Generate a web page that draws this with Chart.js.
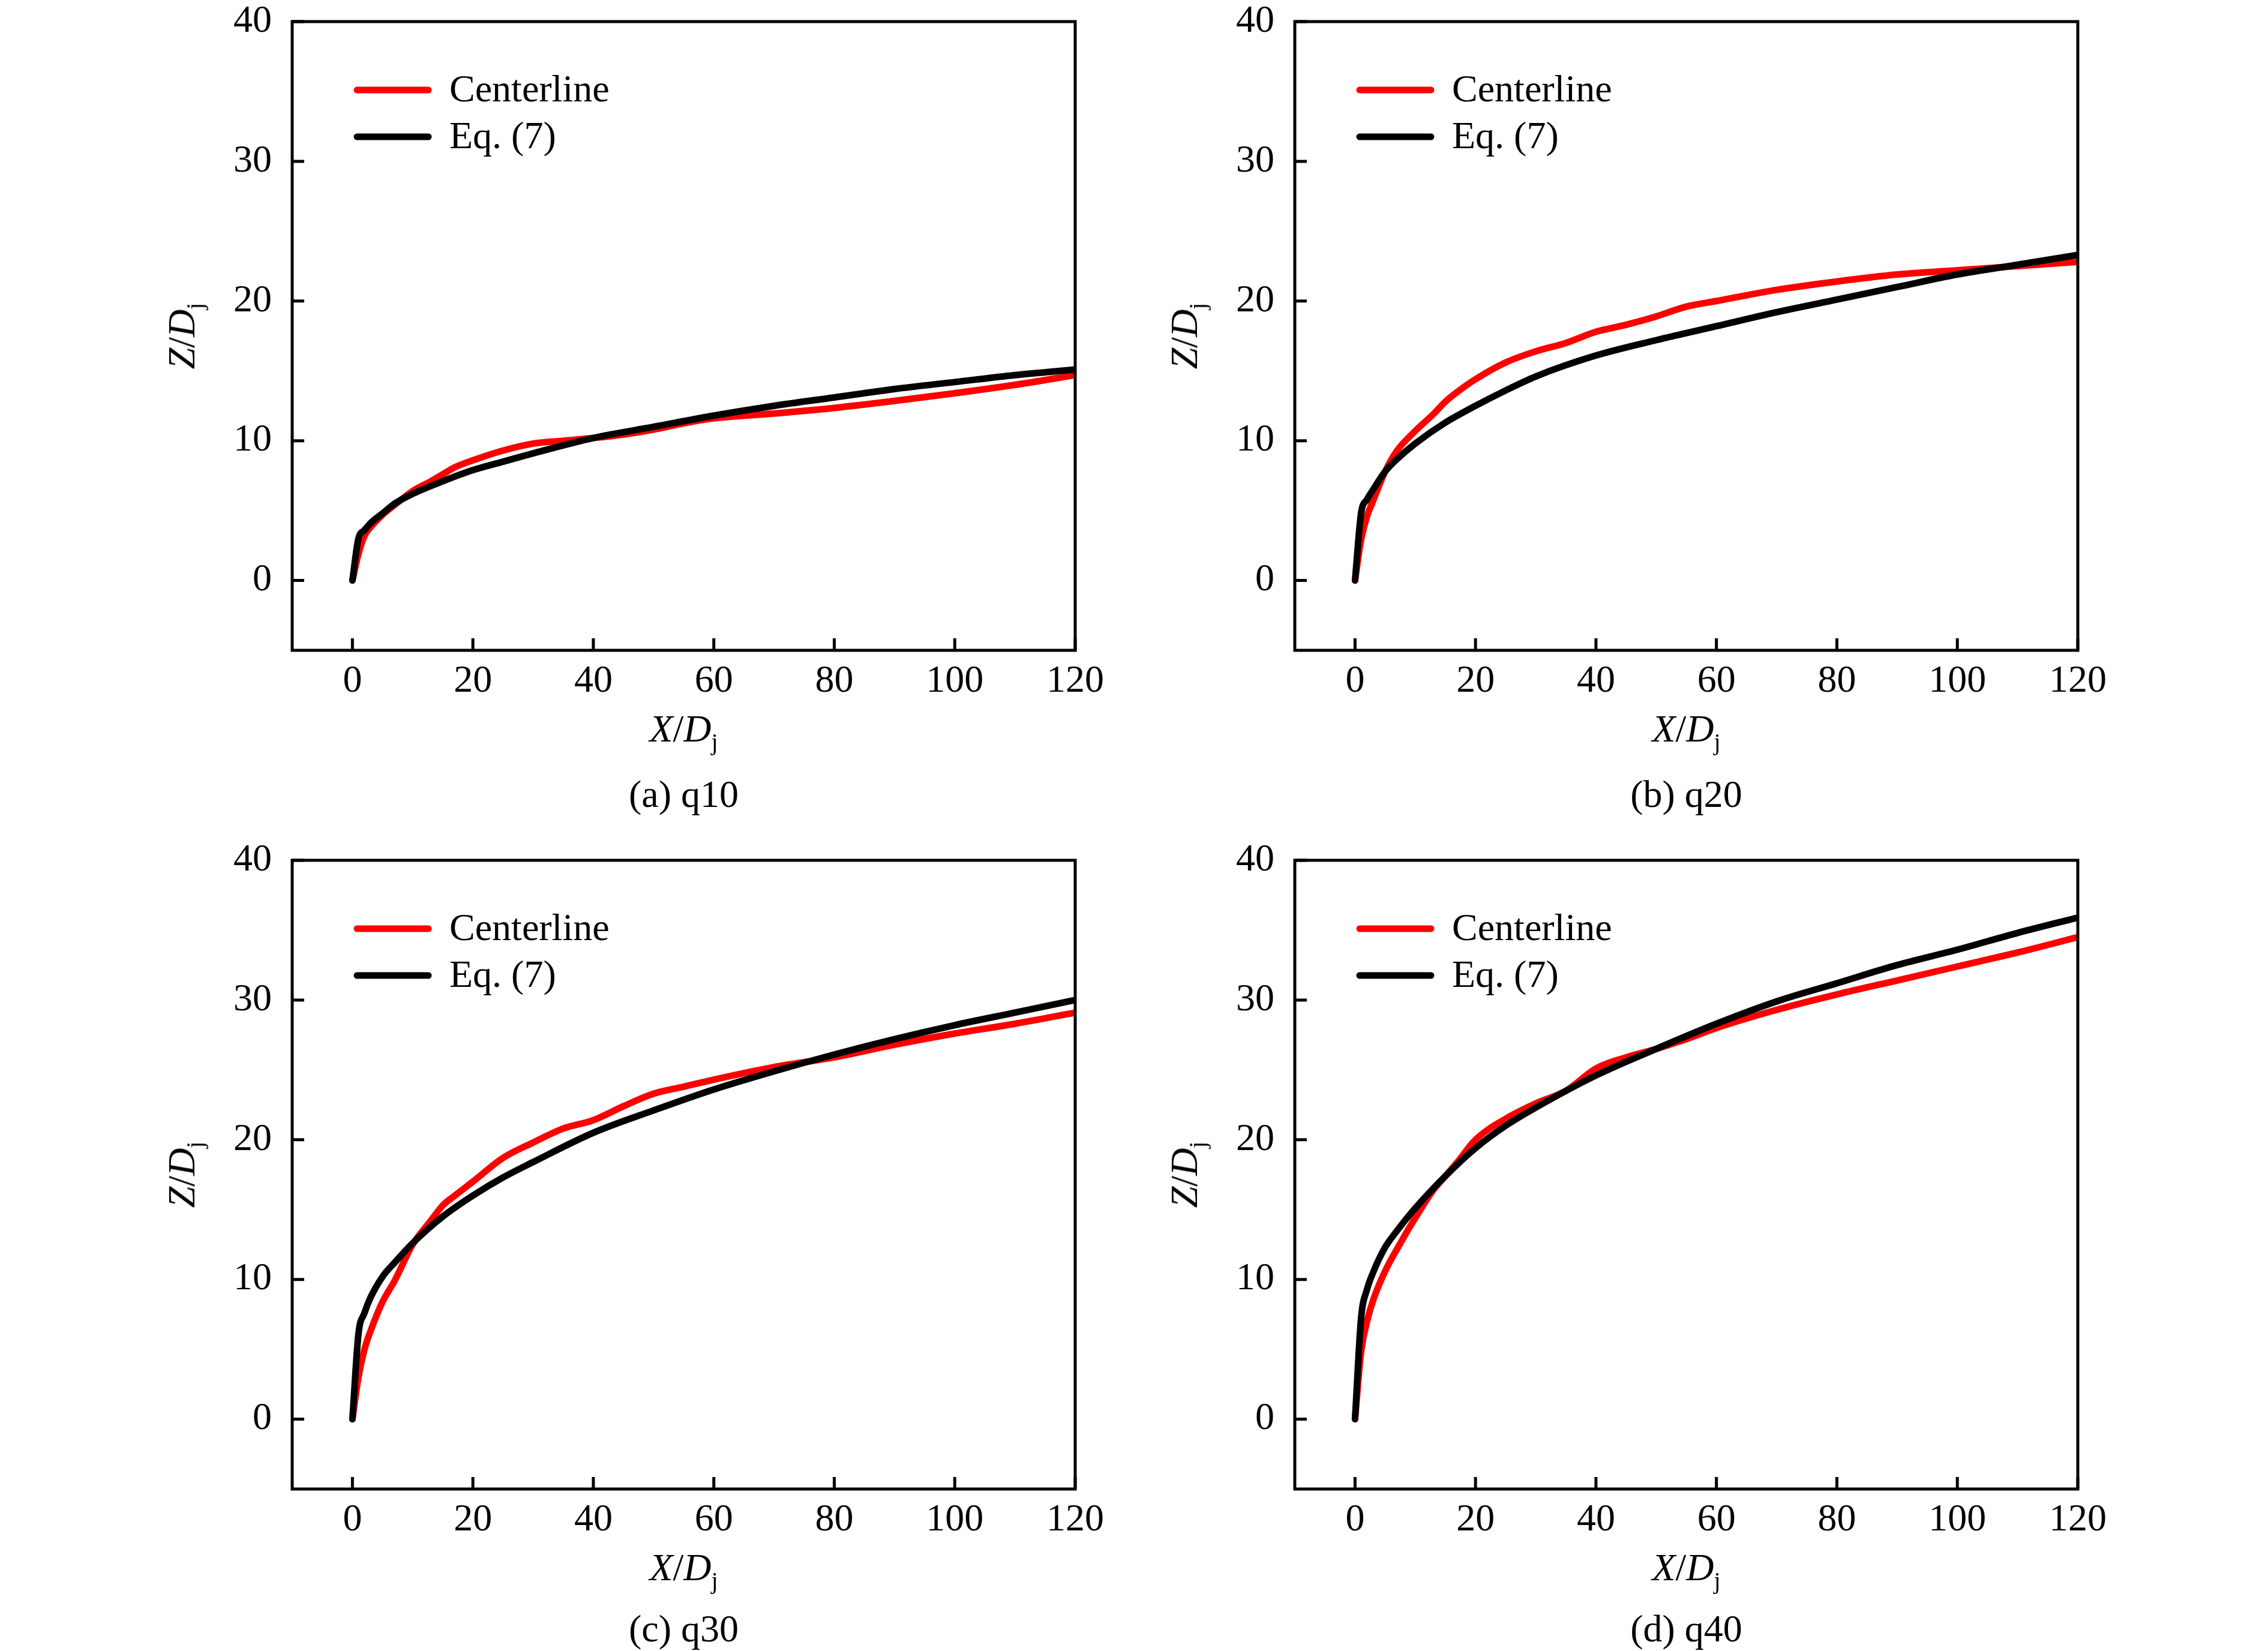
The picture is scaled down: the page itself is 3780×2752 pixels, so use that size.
<!DOCTYPE html>
<html>
<head>
<meta charset="utf-8">
<title>Centerline vs Eq. (7)</title>
<script src="https://cdn.jsdelivr.net/npm/chart.js@4.4.1/dist/chart.umd.min.js"></script>
<style>
	html, body { margin: 0; padding: 0; background: #fff; }
	body { width: 3780px; height: 2752px; position: relative; overflow: hidden;
		font-family: "Liberation Serif", "Times New Roman", serif; color: #000; }
	canvas { position: absolute; }
	.k_xtitle, .k_caption { position: absolute; font-size: 64px; line-height: 1; white-space: nowrap; transform: translateX(-50%); }
	.k_ytitle { position: absolute; font-size: 64px; line-height: 1; white-space: nowrap; transform: translate(-50%, -50%) rotate(-90deg); }
	.k_sub { font-size: 40px; position: relative; top: 14px; font-style: normal; }
</style>
</head>
<body>
<script>
// ---------------------- 데이터 ----------------------
const centerX = [0, 1, 2, 3, 5, 7, 10, 13, 15, 17, 20, 25, 30, 35, 40, 45, 50, 55, 60, 70, 80, 90, 100, 110, 120];
const eqX     = [0, 1, 2, 3, 5, 7, 10, 15, 20, 25, 30, 40, 50, 60, 70, 80, 90, 100, 110, 120];

const q10Center = [0, 1.9, 3.2, 3.8, 4.7, 5.4, 6.4, 7.1, 7.6, 8.1, 8.6, 9.3, 9.8, 10.0, 10.2, 10.45, 10.8, 11.25, 11.6, 11.95, 12.35, 12.85, 13.4, 14.0, 14.7];
const q10Eq     = [0, 3.0, 3.6, 4.1, 4.8, 5.5, 6.2, 7.1, 7.9, 8.5, 9.1, 10.2, 11.0, 11.8, 12.5, 13.1, 13.7, 14.2, 14.7, 15.1];

const q20Center = [0, 2.9, 4.6, 5.7, 7.8, 9.3, 10.7, 11.9, 12.8, 13.5, 14.4, 15.6, 16.4, 17.0, 17.8, 18.3, 18.9, 19.6, 20.0, 20.8, 21.4, 21.9, 22.2, 22.5, 22.8];
const q20Eq     = [0, 4.8, 5.8, 6.5, 7.8, 8.7, 9.8, 11.3, 12.5, 13.6, 14.6, 16.1, 17.2, 18.2, 19.2, 20.1, 21.0, 21.9, 22.6, 23.3];

const q30Center = [0, 3.0, 5.0, 6.3, 8.4, 9.9, 12.5, 14.2, 15.3, 16.0, 17.0, 18.7, 19.8, 20.8, 21.4, 22.4, 23.3, 23.8, 24.3, 25.2, 25.9, 26.8, 27.6, 28.3, 29.1];
const q30Eq     = [0, 6.1, 7.6, 8.7, 10.2, 11.2, 12.6, 14.5, 16.0, 17.3, 18.4, 20.5, 22.1, 23.6, 24.9, 26.1, 27.2, 28.2, 29.1, 30.0];

const q40Center = [0, 4.8, 7.0, 8.5, 10.6, 12.2, 14.4, 16.4, 17.4, 18.4, 20.0, 21.5, 22.6, 23.5, 25.1, 25.9, 26.5, 27.2, 28.0, 29.3, 30.4, 31.4, 32.4, 33.4, 34.5];
const q40Eq     = [0, 7.2, 9.3, 10.5, 12.3, 13.5, 15.1, 17.4, 19.4, 21.0, 22.3, 24.6, 26.5, 28.3, 29.9, 31.2, 32.5, 33.6, 34.8, 35.9];

const captions = ['(a) q10', '(b) q20', '(c) q30', '(d) q40'];
const legendLabels = ['Centerline', 'Eq. (7)'];
const xTicks = [0, 20, 40, 60, 80, 100, 120];
const yTicks = [0, 10, 20, 30, 40];

// ---------------------- 배치 ----------------------
const PLOT_W = 1305, PLOT_H = 1048;
const AXIS_W = 200, AXIS_H = 110, PAD_TOP = 90, PAD_RIGHT = 90;
const colLeft = [487, 2158];
const rowTop = [36, 1434];
const captionGap = [208, 201];
const FONT = { family: 'Liberation Serif', size: 64 };

function toPoints(xs, ys) {
	return xs.map((x, i) => ({ x: x, y: ys[i] }));
}

// 테두리 + 안쪽 눈금
const framePlugin = {
	id: 'frame',
	afterDatasetsDraw(chart) {
		const { ctx, chartArea: a, scales } = chart;
		ctx.save();
		ctx.strokeStyle = '#000';
		ctx.lineWidth = 5;
		ctx.strokeRect(a.left, a.top, a.right - a.left, a.bottom - a.top);
		ctx.beginPath();
		scales.x.ticks.forEach(t => {
			const px = scales.x.getPixelForValue(t.value);
			ctx.moveTo(px, a.bottom);
			ctx.lineTo(px, a.bottom - 20);
		});
		scales.y.ticks.forEach(t => {
			const py = scales.y.getPixelForValue(t.value);
			ctx.moveTo(a.left, py);
			ctx.lineTo(a.left + 20, py);
		});
		ctx.stroke();
		ctx.restore();
	}
};

// 그래프 안쪽 범례
const legendPlugin = {
	id: 'insideLegend',
	afterDraw(chart) {
		const { ctx, chartArea: a } = chart;
		ctx.save();
		chart.data.datasets.forEach((ds, i) => {
			const y = a.top + 114 + i * 78;
			ctx.strokeStyle = ds.borderColor;
			ctx.lineWidth = 11;
			ctx.lineCap = 'round';
			ctx.beginPath();
			ctx.moveTo(a.left + 108, y);
			ctx.lineTo(a.left + 227, y);
			ctx.stroke();
			ctx.fillStyle = '#000';
			ctx.font = '64px "Liberation Serif"';
			ctx.textBaseline = 'alphabetic';
			ctx.fillText(ds.label, a.left + 262, y + 19);
		});
		ctx.restore();
	}
};

function addText(cls, html, left, top) {
	const d = document.createElement('div');
	d.className = cls;
	d.innerHTML = html;
	d.style.left = left + 'px';
	d.style.top = top + 'px';
	document.body.appendChild(d);
}

function drawPanel(plotLeft, plotTop, caption, capGap, center, eq) {
	const canvas = document.createElement('canvas');
	const w = AXIS_W + PLOT_W + PAD_RIGHT;
	const h = PAD_TOP + PLOT_H + AXIS_H;
	canvas.width = w;
	canvas.height = h;
	canvas.style.width = w + 'px';
	canvas.style.height = h + 'px';
	canvas.style.left = (plotLeft - AXIS_W) + 'px';
	canvas.style.top = (plotTop - PAD_TOP) + 'px';
	document.body.appendChild(canvas);

	const chart = new Chart(canvas.getContext('2d'), {
		type: 'line',
		data: {
			datasets: [{
				label: legendLabels[0],
				data: toPoints(centerX, center),
				borderColor: '#ff0000',
				order: 2
			}, {
				label: legendLabels[1],
				data: toPoints(eqX, eq),
				borderColor: '#000000',
				order: 1
			}]
		},
		options: {
			responsive: false,
			animation: false,
			devicePixelRatio: 1,
			layout: { padding: { top: PAD_TOP, right: PAD_RIGHT, left: 0, bottom: 0 } },
			elements: {
				line: { borderWidth: 11, cubicInterpolationMode: 'monotone', borderCapStyle: 'round', borderJoinStyle: 'round', fill: false },
				point: { radius: 0, hoverRadius: 0 }
			},
			datasets: { line: { clip: 0 } },
			plugins: { legend: { display: false }, tooltip: { enabled: false } },
			scales: {
				x: {
					type: 'linear', min: -10, max: 120,
					afterBuildTicks: s => { s.ticks = xTicks.map(v => ({ value: v })); },
					afterFit: s => { s.height = AXIS_H; },
					ticks: { font: FONT, color: '#000', padding: 14, maxRotation: 0, autoSkip: false },
					grid: { display: false, drawTicks: false },
					border: { display: false }
				},
				y: {
					type: 'linear', min: -5, max: 40,
					afterBuildTicks: s => { s.ticks = yTicks.map(v => ({ value: v })); },
					afterFit: s => { s.width = AXIS_W; },
					ticks: { font: FONT, color: '#000', padding: 34, autoSkip: false },
					grid: { display: false, drawTicks: false },
					border: { display: false }
				}
			}
		},
		plugins: [framePlugin, legendPlugin]
	});

	// 실제 chartArea 기준으로 캔버스 위치 맞추기
	canvas.style.left = (plotLeft - chart.chartArea.left) + 'px';
	canvas.style.top = (plotTop - chart.chartArea.top) + 'px';

	const plotBottom = plotTop + PLOT_H;
	addText('k_ytitle', '<i>Z</i>/<i>D</i><span class="k_sub">j</span>', plotLeft - 184, plotTop + PLOT_H / 2);
	addText('k_xtitle', '<i>X</i>/<i>D</i><span class="k_sub">j</span>', plotLeft + PLOT_W / 2, plotBottom + 99);
	addText('k_caption', caption, plotLeft + PLOT_W / 2, plotBottom + capGap);
}

// ------------- (a) ~ (d) ----------------
drawPanel(colLeft[0], rowTop[0], captions[0], captionGap[0], q10Center, q10Eq);
drawPanel(colLeft[1], rowTop[0], captions[1], captionGap[0], q20Center, q20Eq);
drawPanel(colLeft[0], rowTop[1], captions[2], captionGap[1], q30Center, q30Eq);
drawPanel(colLeft[1], rowTop[1], captions[3], captionGap[1], q40Center, q40Eq);
</script>
</body>
</html>
